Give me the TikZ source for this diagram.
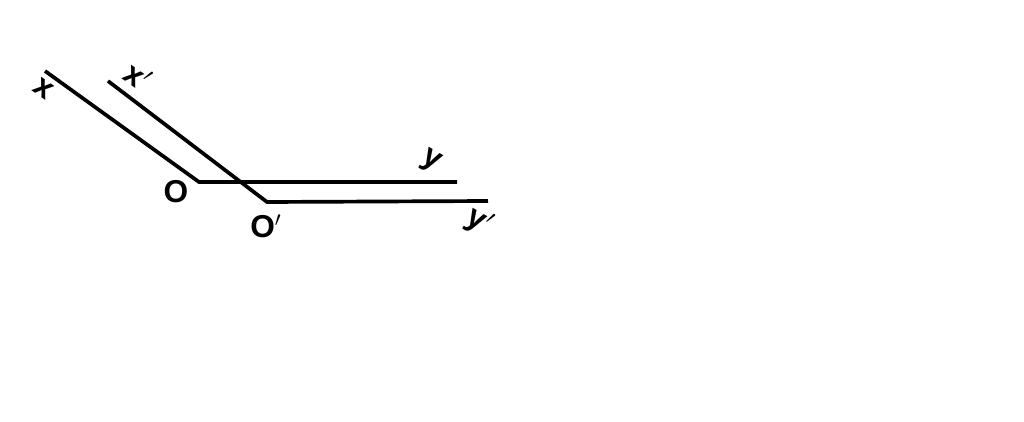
\documentclass[tikz,border=0pt]{standalone}
\usepackage{fontspec}
\setsansfont{Liberation Sans}
\tikzset{
	axisline/.style={line width=2.1pt, color=black},
	axislabel/.style={font=\fontsize{18}{20}\sffamily\bfseries, inner sep=0pt}
}
\begin{document}
\begin{tikzpicture}
			\useasboundingbox [fill=white](0,0)rectangle(20.48,8.42);
			
			\coordinate (O) at (3.98,4.78);
			\coordinate (Oprime) at (5.34,4.38);
			\coordinate (xend) at (0.90,7.00);
			\coordinate (xpend) at (2.16,6.80);
			\coordinate (yend) at (9.14,4.78);
			\coordinate (ypend) at (9.76,4.40);
			
			\draw [axisline](xend)--(O)--(yend);
			\draw [axisline](xpend)--(Oprime)--(ypend);
			
			\node (xlab) at (0.86,6.64)[axislabel, rotate=-35]{x};
			\node (xplab) at (2.76,6.90)[axislabel, rotate=-35]{x$'$};
			\node (Olab) at (3.52,4.58)[axislabel]{O};
			\node (Oplab) at (5.32,3.90)[axislabel]{O$'$};
			\node (ylab) at (8.62,5.18)[axislabel, rotate=-30]{y};
			\node (yplab) at (9.58,3.98)[axislabel, rotate=-30]{y$'$};
			
		\end{tikzpicture}
\end{document}
